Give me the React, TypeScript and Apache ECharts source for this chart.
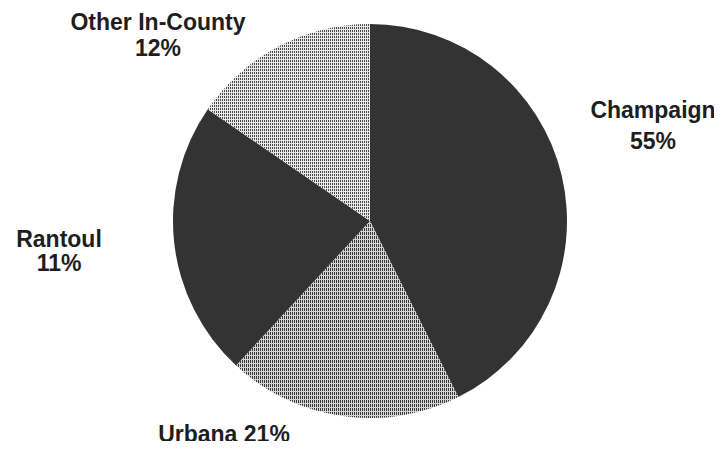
import React, { useEffect, useRef } from "react";
import * as echarts from "echarts";

// Slice shares as drawn in the picture (measured angles)
const categories = ["Champaign", "Urbana", "Rantoul", "Other In-County"];
const sliceShares = [42.6, 19.3, 22.7, 15.4];
// Percentages printed on the labels
const labelPercents = [55, 21, 11, 12];

const labelPos: Record<string, { x: number; y: number; lh: number }> = {
  Champaign: { x: 653, y: 125, lh: 31 },
  Urbana: { x: 224, y: 434, lh: 24 },
  Rantoul: { x: 59, y: 251, lh: 24 },
  "Other In-County": { x: 158, y: 35, lh: 26 },
};

export default function App() {
  const ref = useRef<HTMLDivElement>(null);
  useEffect(() => {
    if (!ref.current) return;
    const chart = echarts.init(ref.current, undefined, { renderer: "svg" });
    const dark = "#333333";
    const hatchLight = {
      color: "#e8e8e8",
      decal: {
        symbol: "rect",
        symbolSize: 1,
        color: "#4a4a4a",
        dashArrayX: [1, 1],
        dashArrayY: [2, 1],
        rotation: 0,
      },
    };
    const hatchMid = {
      color: "#d4d4d4",
      decal: {
        symbol: "rect",
        symbolSize: 1,
        color: "#383838",
        dashArrayX: [1, 1],
        dashArrayY: [3, 1],
        rotation: 0,
      },
    };
    const styles = [{ color: dark }, hatchMid, { color: dark }, hatchLight];
    chart.setOption({
      animation: false,
      backgroundColor: "#ffffff",
      aria: { enabled: false },
      series: [
        {
          type: "pie",
          center: [370, 221],
          radius: 197,
          startAngle: 90,
          clockwise: true,
          avoidLabelOverlap: false,
          labelLine: { show: false },
          emphasis: { disabled: true },
          data: categories.map((name, i) => ({
            name,
            value: sliceShares[i],
            itemStyle: styles[i],
            label: {
              show: true,
              formatter:
                name === "Urbana"
                  ? `${name} ${labelPercents[i]}%`
                  : `${name}\n${labelPercents[i]}%`,
              lineHeight: labelPos[name].lh,
            },
          })),
          label: {
            color: "#1e1e1e",
            fontFamily: "'Liberation Sans', Arial, sans-serif",
            fontWeight: "bold",
            fontSize: 23,
            align: "center",
            overflow: "none",
            width: 300,
          },
          labelLayout: (params: any) => {
            const name = categories[params.dataIndex];
            const p = labelPos[name];
            return {
              x: p.x,
              y: p.y,
              align: "center",
              verticalAlign: "middle",
            };
          },
        },
      ],
    });
    return () => chart.dispose();
  }, []);
  return <div ref={ref} style={{ width: 722, height: 449, margin: -8 }} />;
}
